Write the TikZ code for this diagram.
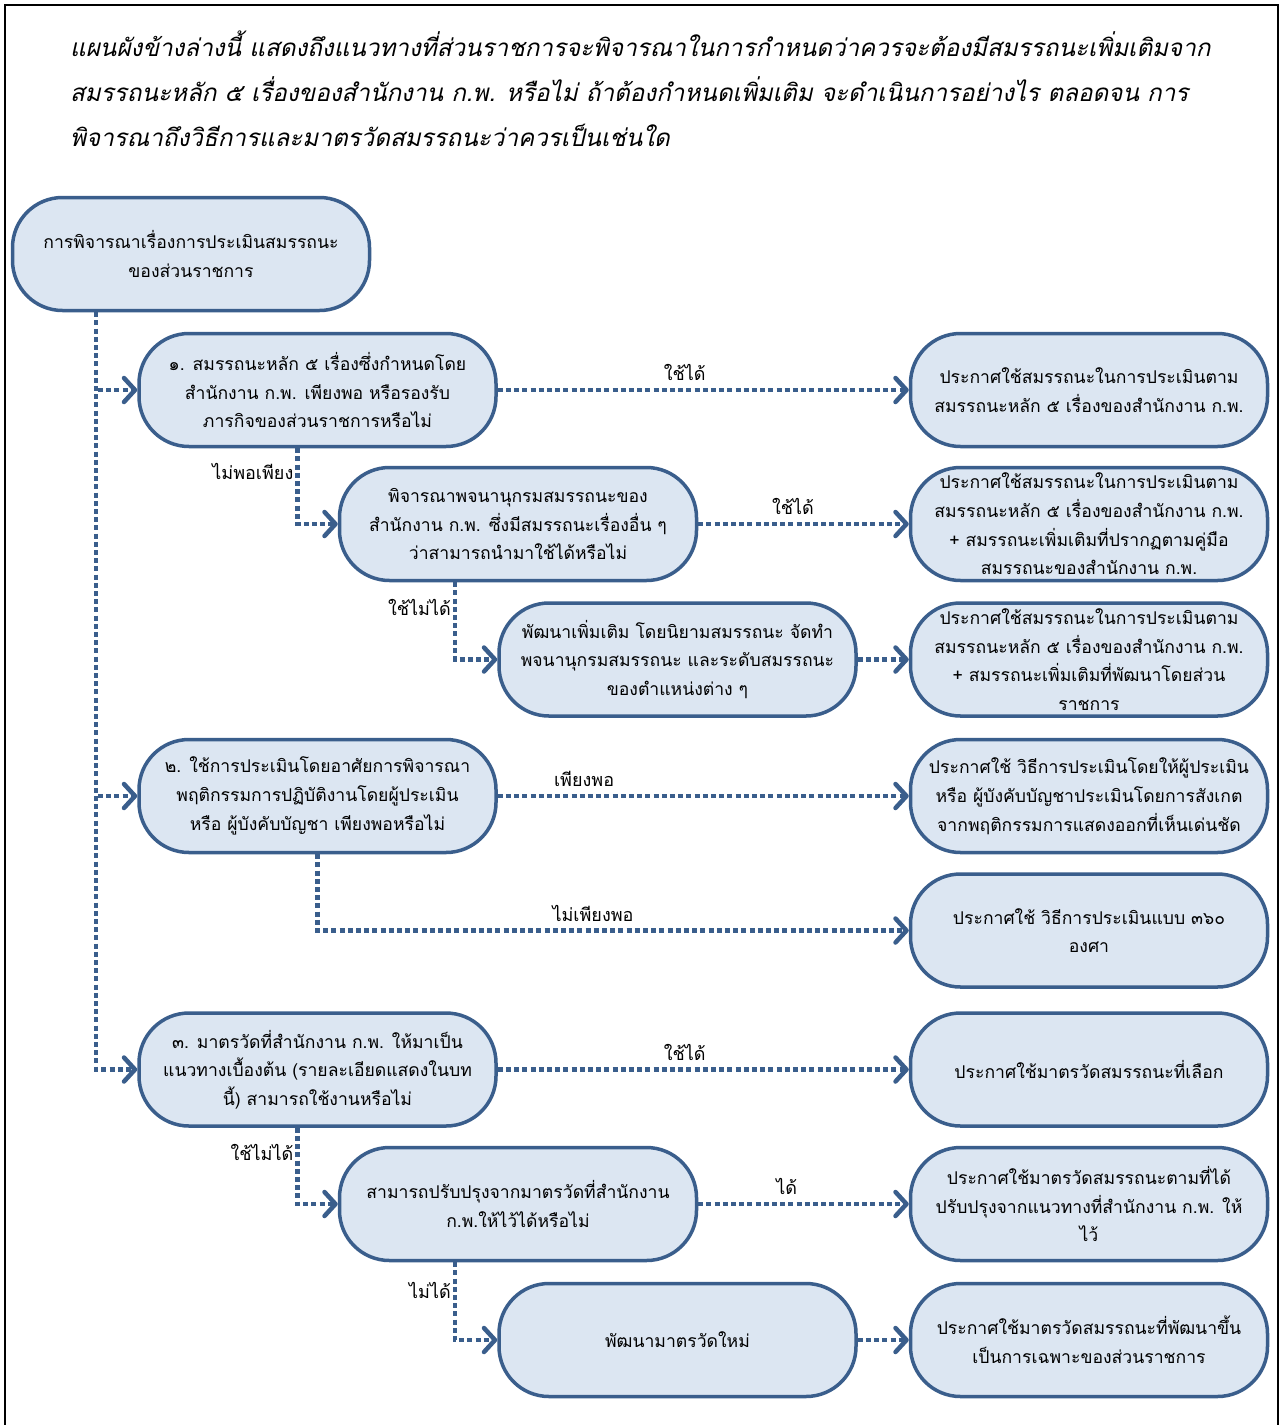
\documentclass[tikz,border=0pt]{standalone}
\usepackage{fontspec}
\usetikzlibrary{arrows.meta}
\newfontfamily\thaifont[Script=Thai]{Loma}
\newfontfamily\thaiit[Script=Thai,FakeSlant=0.22]{Loma}
\definecolor{bcol}{RGB}{58,94,140}
\definecolor{fcol}{RGB}{220,230,242}
\tikzset{
  box/.style={draw=bcol, fill=fcol, line width=3.5pt, rounded corners=50pt,
    minimum width=357pt, minimum height=113pt, align=center, inner sep=0pt,
    font=\thaifont\fontsize{17.6}{28.7}\selectfont},
  conn/.style={draw=bcol, line width=4.5pt, dash pattern=on 5pt off 3.2pt,
    -{Straight Barb[length=11pt,width=24pt,round]}},
  lbl/.style={font=\thaifont\fontsize{18}{22}\selectfont, inner sep=0pt},
  ttl/.style={font=\thaiit\fontsize{24.2}{28}\selectfont, anchor=base west, inner sep=0pt}
}
\begin{document}
\begin{tikzpicture}[x=1pt,y=-1pt]
\useasboundingbox (0,0) rectangle (1281,1425);
\fill[white] (0,0) rectangle (1281,1425);
\draw[line width=2pt] (5,1440) -- (5,5) -- (1278,5) -- (1278,1440);
% title
\node[ttl] (t1) at (70,56) {แผนผังข้างล่างนี้ แสดงถึงแนวทางที่ส่วนราชการจะพิจารณาในการกำหนดว่าควรจะต้องมีสมรรถนะเพิ่มเติมจาก};
\node[ttl] (t2) at (70,101) {สมรรถนะหลัก ๕ เรื่องของสำนักงาน ก.พ. หรือไม่ ถ้าต้องกำหนดเพิ่มเติม จะดำเนินการอย่างไร ตลอดจน การ};
\node[ttl] (t3) at (70,146) {พิจารณาถึงวิธีการและมาตรวัดสมรรถนะว่าควรเป็นเช่นใด};
% nodes
\node[box] (A) at (191,254) {การพิจารณาเรื่องการประเมินสมรรถนะ\\ของส่วนราชการ};
\node[box] (B1) at (317.5,390) {๑. สมรรถนะหลัก ๕ เรื่องซึ่งกำหนดโดย\\สำนักงาน ก.พ. เพียงพอ หรือรองรับ\\ภารกิจของส่วนราชการหรือไม่};
\node[box] (R1) at (1089,390) {ประกาศใช้สมรรถนะในการประเมินตาม\\สมรรถนะหลัก ๕ เรื่องของสำนักงาน ก.พ.};
\node[box] (B2) at (518,524) {พิจารณาพจนานุกรมสมรรถนะของ\\สำนักงาน ก.พ. ซึ่งมีสมรรถนะเรื่องอื่น ๆ\\ว่าสามารถนำมาใช้ได้หรือไม่};
\node[box] (R2) at (1089,524) {ประกาศใช้สมรรถนะในการประเมินตาม\\สมรรถนะหลัก ๕ เรื่องของสำนักงาน ก.พ.\\+ สมรรถนะเพิ่มเติมที่ปรากฏตามคู่มือ\\สมรรถนะของสำนักงาน ก.พ.};
\node[box] (B3) at (677.5,659.5) {พัฒนาเพิ่มเติม โดยนิยามสมรรถนะ จัดทำ\\พจนานุกรมสมรรถนะ และระดับสมรรถนะ\\ของตำแหน่งต่าง ๆ};
\node[box] (R3) at (1089,659.5) {ประกาศใช้สมรรถนะในการประเมินตาม\\สมรรถนะหลัก ๕ เรื่องของสำนักงาน ก.พ.\\+ สมรรถนะเพิ่มเติมที่พัฒนาโดยส่วน\\ราชการ};
\node[box] (C1) at (317.5,796) {๒. ใช้การประเมินโดยอาศัยการพิจารณา\\พฤติกรรมการปฏิบัติงานโดยผู้ประเมิน\\หรือ ผู้บังคับบัญชา เพียงพอหรือไม่};
\node[box] (R4) at (1089,796) {ประกาศใช้ วิธีการประเมินโดยให้ผู้ประเมิน\\หรือ ผู้บังคับบัญชาประเมินโดยการสังเกต\\จากพฤติกรรมการแสดงออกที่เห็นเด่นชัด};
\node[box] (R5) at (1089,930.5) {ประกาศใช้ วิธีการประเมินแบบ ๓๖๐\\องศา};
\node[box] (D1) at (317.5,1069.5) {๓. มาตรวัดที่สำนักงาน ก.พ. ให้มาเป็น\\แนวทางเบื้องต้น (รายละเอียดแสดงในบท\\นี้) สามารถใช้งานหรือไม่};
\node[box] (R6) at (1089,1069.5) {ประกาศใช้มาตรวัดสมรรถนะที่เลือก};
\node[box] (D2) at (518,1204) {สามารถปรับปรุงจากมาตรวัดที่สำนักงาน\\ก.พ.ให้ไว้ได้หรือไม่};
\node[box] (R7) at (1089,1204) {ประกาศใช้มาตรวัดสมรรถนะตามที่ได้\\ปรับปรุงจากแนวทางที่สำนักงาน ก.พ. ให้\\ไว้};
\node[box] (D3) at (677.5,1340) {พัฒนามาตรวัดใหม่};
\node[box] (R8) at (1089,1340) {ประกาศใช้มาตรวัดสมรรถนะที่พัฒนาขึ้น\\เป็นการเฉพาะของส่วนราชการ};
% trunk
\coordinate (t0) at ([xshift=-95pt]A.south);
\draw[conn] (t0) |- (D1.west);
\draw[conn] ([xshift=2pt]t0 |- B1.west) -- (B1.west);
\draw[conn] ([xshift=2pt]t0 |- C1.west) -- (C1.west);
% branch 1
\draw[conn] (B1.east) -- node[lbl, above=7pt, pos=0.455] (l1) {ใช้ได้} (R1.west);
\draw[conn] ([xshift=-20pt]B1.south) |- (B2.west);
\node[lbl, anchor=east] (l2) at ([xshift=-24pt,yshift=-23pt]B1.south) {ไม่พอเพียง};
\draw[conn] (B2.east) -- node[lbl, above=7pt, pos=0.45] (l3) {ใช้ได้} (R2.west);
\draw[conn] ([xshift=-63pt]B2.south) |- (B3.west);
\node[lbl, anchor=east] (l4) at ([xshift=-67pt,yshift=-25pt]B2.south) {ใช้ไม่ได้};
\draw[conn] (B3.east) -- (R3.west);
% branch 2
\draw[conn] (C1.east) -- node[lbl, above=7pt, pos=0.21] (l5) {เพียงพอ} (R4.west);
\draw[conn] (C1.south) |- node[lbl, above=7pt, pos=0.733] (l6) {ไม่เพียงพอ} (R5.west);
% branch 3
\draw[conn] (D1.east) -- node[lbl, above=7pt, pos=0.455] (l7) {ใช้ได้} (R6.west);
\draw[conn] ([xshift=-20pt]D1.south) |- (D2.west);
\node[lbl, anchor=east] (l8) at ([xshift=-24pt,yshift=-25pt]D1.south) {ใช้ไม่ได้};
\draw[conn] (D2.east) -- node[lbl, above=7pt, pos=0.42] (l9) {ได้} (R7.west);
\draw[conn] ([xshift=-63pt]D2.south) |- (D3.west);
\node[lbl, anchor=east] (l10) at ([xshift=-67pt,yshift=-28pt]D2.south) {ไม่ได้};
\draw[conn] (D3.east) -- (R8.west);
\end{tikzpicture}
\end{document}
